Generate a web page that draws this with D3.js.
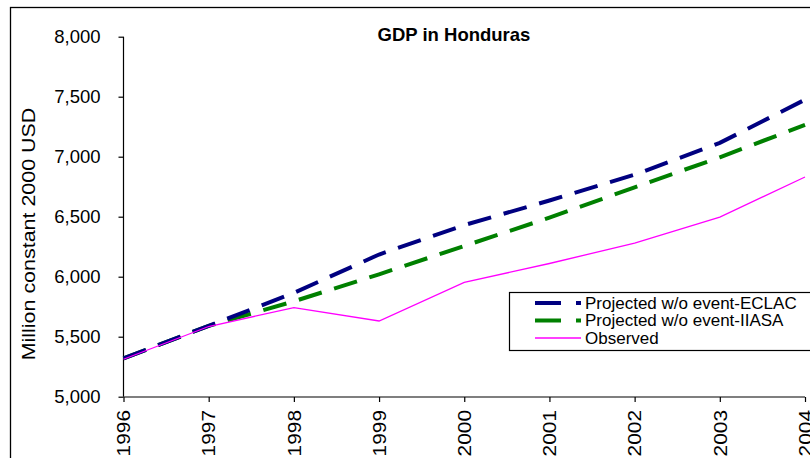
<!DOCTYPE html>
<html>
<head>
<meta charset="utf-8">
<script src="https://cdn.jsdelivr.net/npm/d3@7"></script>
<style>
  body { margin: 0; background: #fff; }
  svg { font-family: "Liberation Sans", Arial, sans-serif; }
</style>
</head>
<body>
<svg id="chart"></svg>
<script>
//Data
const years = [1996, 1997, 1998, 1999, 2000, 2001, 2002, 2003, 2004];
const eclac = [5320, 5590, 5865, 6185, 6430, 6635, 6850, 7115, 7475];
const iiasa = [5320, 5590, 5795, 6020, 6256, 6492, 6745, 6995, 7265];
const observed = [5312, 5585, 5743, 5631, 5953, 6110, 6280, 6497, 6831];
const yTicks = [5000, 5500, 6000, 6500, 7000, 7500, 8000];

const seriesNames = ["Projected w/o event-ECLAC", "Projected w/o event-IIASA", "Observed"];
const seriesColors = ["#000080", "#008000", "#ff00ff"];

const w = 810;
const h = 458;
const stretch = 1.16; //vertical texts look stretched along their length

const chart = d3.select("#chart")
                .attr("width", w)
                .attr("height", h);

//Outer chart-area frame
chart.append("rect")
     .attr("x", 10.5)
     .attr("y", 7.5)
     .attr("width", 820)
     .attr("height", 470)
     .attr("fill", "none")
     .attr("stroke", "#000")
     .attr("stroke-width", 1.3);

//Scale Setup
const xScale = d3.scaleLinear()
                 .domain([1996, 2004])
                 .range([123.5, 805]);
const yScale = d3.scaleLinear()
                 .domain([5000, 8000])
                 .range([396.7, 36.7]);

//Axis Setup
const yAxis = d3.axisLeft(yScale)
                .tickValues(yTicks)
                .tickFormat(d3.format(","))
                .tickSize(5)
                .tickPadding(18);
const yG = chart.append("g")
                .attr("transform", "translate(123.5, 0)")
                .call(yAxis);
yG.select(".domain").attr("d", "M0," + yScale(8000) + "V" + yScale(5000));
yG.selectAll(".tick text").attr("font-size", 18.5);

const xAxis = d3.axisBottom(xScale)
                .tickValues(years)
                .tickFormat(d3.format("d"))
                .tickSize(5);
const xG = chart.append("g")
                .attr("transform", "translate(0, 397)")
                .call(xAxis);
xG.select(".domain").attr("d", "M" + xScale(1996) + ",0H" + xScale(2004));
xG.selectAll(".tick text")
  .attr("transform", "translate(0, 13) rotate(-90) scale(" + stretch + ", 1)")
  .attr("text-anchor", "end")
  .attr("x", 0)
  .attr("y", 0)
  .attr("dy", "0.35em")
  .attr("font-size", 18);

chart.selectAll(".domain, .tick line")
     .attr("stroke", "#000")
     .attr("stroke-width", 1.2);
chart.selectAll(".tick text")
     .attr("fill", "#000")
     .style("font-family", "Liberation Sans, Arial, sans-serif");

//Lines
const line = d3.line()
               .x((d, i) => xScale(years[i]))
               .y((d) => yScale(d));

chart.append("path")
     .datum(iiasa)
     .attr("d", line)
     .attr("fill", "none")
     .attr("stroke", seriesColors[1])
     .attr("stroke-width", 4)
     .attr("stroke-dasharray", "24,13");

chart.append("path")
     .datum(eclac)
     .attr("d", line)
     .attr("fill", "none")
     .attr("stroke", seriesColors[0])
     .attr("stroke-width", 4)
     .attr("stroke-dasharray", "24,13");

chart.append("path")
     .datum(observed)
     .attr("d", line)
     .attr("fill", "none")
     .attr("stroke", seriesColors[2])
     .attr("stroke-width", 1.3);

//Labels Setup
chart.append("text")
     .attr("x", 454)
     .attr("y", 41)
     .attr("text-anchor", "middle")
     .attr("font-size", 18.5)
     .attr("font-weight", "bold")
     .text("GDP in Honduras");

chart.append("text")
     .attr("transform", "translate(35, 234) rotate(-90) scale(" + stretch + ", 1)")
     .attr("text-anchor", "middle")
     .attr("font-size", 18.5)
     .text("Million constant 2000 USD");

//Legend
const legend = chart.append("g");
legend.append("rect")
      .attr("x", 509.5)
      .attr("y", 292.5)
      .attr("width", 320)
      .attr("height", 58)
      .attr("fill", "#fff")
      .attr("stroke", "#000")
      .attr("stroke-width", 1.2);

seriesNames.forEach((name, i) => {
  const yPos = 303 + i * 17.5;
  legend.append("line")
        .attr("x1", 535)
        .attr("x2", 581)
        .attr("y1", yPos)
        .attr("y2", yPos)
        .attr("stroke", seriesColors[i])
        .attr("stroke-width", i < 2 ? 4 : 1.3)
        .attr("stroke-dasharray", i < 2 ? "26,15" : null);
  legend.append("text")
        .attr("x", 585)
        .attr("y", yPos)
        .attr("dy", "0.35em")
        .attr("font-size", 17)
        .text(name);
});
</script>
</body>
</html>
